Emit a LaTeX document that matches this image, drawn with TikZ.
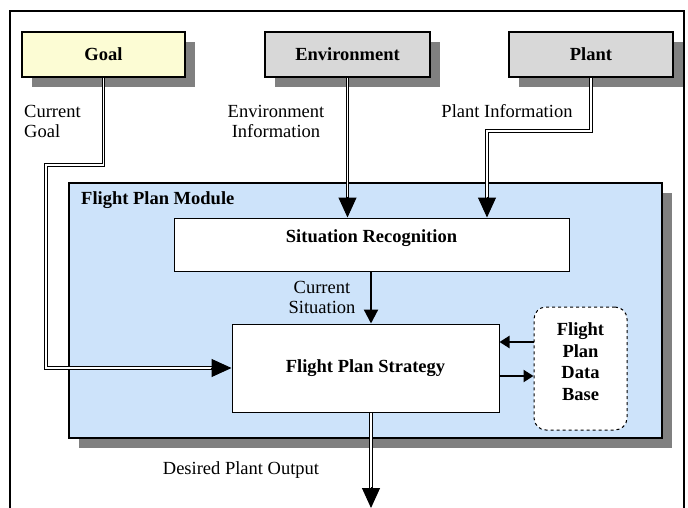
\documentclass[tikz,border=0pt]{standalone}
\usepackage{fontspec}
\setmainfont{Liberation Serif}
\usetikzlibrary{arrows.meta,shadows,calc}
\definecolor{goalfill}{HTML}{FCFCD4}
\definecolor{grayfill}{HTML}{D8D8D8}
\definecolor{modfill}{HTML}{CDE3FA}
\definecolor{shadowgray}{HTML}{808080}
\begin{document}
\begin{tikzpicture}[x=1pt,y=-1pt,
  font=\fontsize{18.5}{20}\selectfont,
  box/.style={draw, line width=1.6pt, inner sep=0pt},
  shad/.style={drop shadow={shadow xshift=10pt, shadow yshift=-10pt, fill=shadowgray, opacity=1}},
  lbl/.style={inner sep=0pt, align=center},
  dbl/.style={draw=black, line width=0.9pt, double=white, double distance=1.6pt},
  bigtip/.style={-{Triangle[length=20pt,width=18pt]}, line width=1pt},
  thick arrow/.style={-{Triangle[length=14pt,width=14pt]}, line width=2.2pt},
  small arrow/.style={-{Triangle[length=10pt,width=12pt]}, line width=2.2pt}]
\useasboundingbox (0,0) rectangle (688,508);
\clip (0,0) rectangle (688,508);
\fill[white] (0,0) rectangle (688,508);
% outer frame
\draw[line width=1.6pt] (10,530) |- (684,11) -- (684,530);
% top boxes
\node[box, shad, fill=goalfill, minimum width=163, minimum height=45] (goal) at (103.5,54.5) {\bfseries Goal};
\node[box, shad, fill=grayfill, minimum width=165, minimum height=45] (env) at (347.5,54.5) {\bfseries Environment};
\node[box, shad, fill=grayfill, minimum width=164, minimum height=45] (plant) at (591,54.5) {\bfseries Plant};
% module
\node[box, shad, fill=modfill, minimum width=593, minimum height=255] (mod) at (365.5,310.5) {};
\node[lbl, anchor=west, font=\fontsize{18.5}{20}\selectfont\bfseries] (modlbl) at (81,200) {Flight Plan Module};
\node[box, fill=white, line width=1pt, minimum width=395, minimum height=53, text depth=16pt] (sr) at (371.5,244.5) {\bfseries Situation Recognition};
\node[box, fill=white, line width=1pt, minimum width=267, minimum height=88] (fps) at (365.5,368) {\bfseries Flight Plan Strategy};
\node[box, fill=white, line width=1pt, dashed, rounded corners=12pt, minimum width=93, minimum height=123, align=center, text depth=14pt, font=\fontsize{18.5}{21.5}\selectfont\bfseries] (db) at (580.5,368.5) {Flight\\Plan\\Data\\Base};
% labels
\node[lbl, anchor=west, align=left] (lgoal) at (24,121) {Current\\Goal};
\node[lbl] (lenv) at (276,121) {Environment\\Information};
\node[lbl] (lplant) at (507,111) {Plant Information};
\node[lbl] (lsit) at (322,297) {Current\\Situation};
\node[lbl] (lout) at (241,470) {Desired Plant Output};
% coordinates
\coordinate (gb) at (46,165);
\coordinate (pb) at (487,131);
\coordinate (cx) at (371,0);
\coordinate (ya) at (0,342);
\coordinate (yb) at (0,376);
\coordinate (out) at (371,508);
% goal connector
\draw[dbl, shorten >=19pt] (goal.south) |- (gb) |- (fps.west);
\draw[bigtip] ($(fps.west)+(-21,0)$) -- (fps.west);
% environment connector
\draw[dbl, shorten >=19pt] (env.south) -- (env.south |- sr.north);
\draw[bigtip] ($(env.south |- sr.north)+(0,-21)$) -- (env.south |- sr.north);
% plant connector
\draw[dbl, shorten >=19pt] (plant.south) |- (pb) -- (pb |- sr.north);
\draw[bigtip] ($(pb |- sr.north)+(0,-21)$) -- (pb |- sr.north);
% situation to strategy
\draw[thick arrow] (cx |- sr.south) -- (cx |- fps.north);
% data base arrows
\draw[small arrow] (db.west |- ya) -- (fps.east |- ya);
\draw[small arrow] (fps.east |- yb) -- (db.west |- yb);
% output
\draw[dbl, shorten >=19pt] (cx |- fps.south) -- (out);
\draw[bigtip] ($(out)+(0,-21)$) -- (out);
\end{tikzpicture}
\end{document}
